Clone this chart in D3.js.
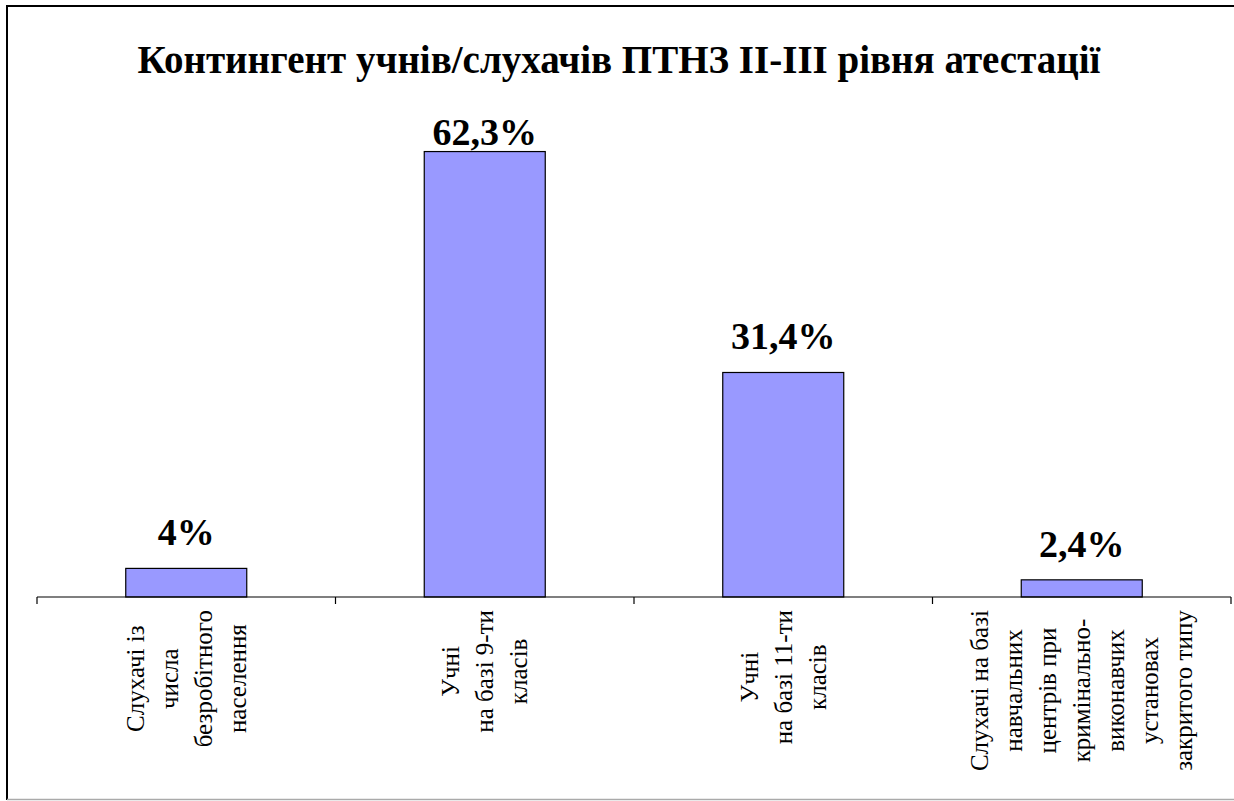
<!DOCTYPE html>
<html>
<head>
<meta charset="utf-8">
<script src="https://cdn.jsdelivr.net/npm/d3@7"></script>
<style>
  html, body { margin: 0; padding: 0; background: #fff; }
  svg { display: block; }
</style>
</head>
<body>
<svg id="chart" width="1234" height="801"></svg>
<script>
const titleText = "Контингент учнів/слухачів ПТНЗ ІІ-ІІІ рівня атестації";
const categories = [
  ["Слухачі із", "числа", "безробітного", "населення"],
  ["Учні", "на базі 9-ти", "класів"],
  ["Учні", "на базі 11-ти", "класів"],
  ["Слухачі на базі", "навчальних", "центрів при", "кримінально-", "виконавчих", "установах", "закритого типу"]
];
const values = [4, 62.3, 31.4, 2.4];
const valueLabels = ["4%", "62,3%", "31,4%", "2,4%"];

const FONT = '"Liberation Serif", "Times New Roman", Tinos, serif';
const ctx = document.createElement("canvas").getContext("2d");
ctx.font = `bold 30px ${FONT}`; ctx.measureText(titleText);
ctx.font = `30px ${FONT}`; ctx.measureText(titleText);

const svg = d3.select("#chart");

// frame
svg.append("line").attr("x1", 7).attr("x2", 1234).attr("y1", 6).attr("y2", 6)
  .attr("stroke", "#000").attr("stroke-width", 2);
svg.append("line").attr("x1", 7).attr("x2", 7).attr("y1", 5).attr("y2", 800)
  .attr("stroke", "#000").attr("stroke-width", 2);
svg.append("line").attr("x1", 7).attr("x2", 1234).attr("y1", 799.5).attr("y2", 799.5)
  .attr("stroke", "#aaa").attr("stroke-width", 1.5);

// title
svg.append("text")
  .attr("x", 619).attr("y", 73)
  .attr("text-anchor", "middle")
  .style("font-family", FONT).style("font-weight", "bold").style("font-size", "39px")
  .text(titleText);

const x = d3.scaleBand().domain(d3.range(values.length)).range([37, 1231]).paddingInner(0).paddingOuter(0);
const y = d3.scaleLinear().domain([0, 70]).range([597, 96.5]);
const barW = 121;

// bars
svg.append("g").selectAll("rect").data(values).join("rect")
  .attr("x", (d, i) => x(i) + x.bandwidth() / 2 - barW / 2)
  .attr("y", d => y(d))
  .attr("width", barW)
  .attr("height", d => y(0) - y(d))
  .attr("fill", "#9999FF")
  .attr("stroke", "#000").attr("stroke-width", 1.2);

// axis
const axis = svg.append("g");
axis.append("line").attr("x1", 37).attr("x2", 1231).attr("y1", y(0)).attr("y2", y(0))
  .attr("stroke", "#000").attr("stroke-width", 1.2);
const tickPos = d3.range(values.length + 1).map(i => i === values.length ? x.range()[1] : x(i));
axis.selectAll("line.tick").data(tickPos).join("line").attr("class", "tick")
  .attr("x1", d => d).attr("x2", d => d).attr("y1", y(0)).attr("y2", y(0) + 7)
  .attr("stroke", "#000").attr("stroke-width", 1.2);

// value labels
svg.append("g").selectAll("text").data(values).join("text")
  .attr("x", (d, i) => x(i) + x.bandwidth() / 2)
  .attr("y", d => Math.max(y(d) - 23, 145))
  .attr("text-anchor", "middle")
  .style("font-family", FONT).style("font-weight", "bold").style("font-size", "38px")
  .text((d, i) => valueLabels[i]);

// category labels (rotated, lines centered, block top-aligned)
const lineGap = 34;
const topY = 610;
categories.forEach((lines, i) => {
  const cx = x(i) + x.bandwidth() / 2;
  const g = svg.append("g");
  const texts = lines.map((ln, j) => g.append("text")
    .style("font-family", FONT).style("font-size", "25px")
    .attr("text-anchor", "middle")
    .text(ln));
  const maxLen = d3.max(texts, t => t.node().getComputedTextLength());
  const midY = topY + maxLen / 2;
  texts.forEach((t, j) => {
    const lx = cx + (j - (lines.length - 1) / 2) * lineGap;
    t.attr("transform", `translate(${lx},${midY}) rotate(-90)`)
     .attr("dy", "0.33em");
  });
});
</script>
</body>
</html>
